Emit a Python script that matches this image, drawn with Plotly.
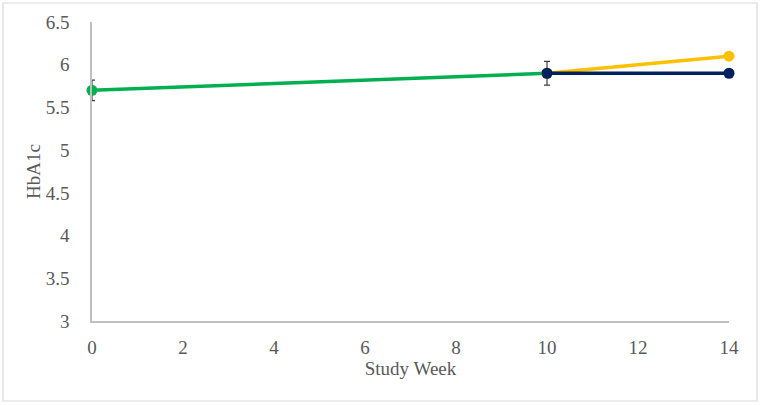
import plotly.graph_objects as go

weeks_green = [0, 10]
hba1c_green = [5.7, 5.9]
err_green = [0.12, 0]

weeks_yellow = [10, 14]
hba1c_yellow = [5.9, 6.1]

weeks_navy = [10, 14]
hba1c_navy = [5.9, 5.9]
err_navy = [0.14, 0]

x_ticks = [0, 2, 4, 6, 8, 10, 12, 14]
y_ticks = [3, 3.5, 4, 4.5, 5, 5.5, 6, 6.5]

font = "Liberation Serif, Times New Roman, serif"
tick_color = "#595959"
fs = 19

fig = go.Figure()
fig.add_trace(go.Scatter(
    x=weeks_green, y=hba1c_green, mode="lines+markers",
    line=dict(color="#00B050", width=3.5),
    marker=dict(color="#00B050", size=11),
    error_y=dict(type="data", array=err_green, color="#404040", thickness=1.2, width=3),
    showlegend=False))
fig.add_trace(go.Scatter(
    x=weeks_yellow, y=hba1c_yellow, mode="lines+markers",
    line=dict(color="#FFC000", width=3.5),
    marker=dict(color="#FFC000", size=11),
    showlegend=False))
fig.add_trace(go.Scatter(
    x=weeks_navy, y=hba1c_navy, mode="lines+markers",
    line=dict(color="#002060", width=3.5),
    marker=dict(color="#002060", size=11),
    error_y=dict(type="data", array=err_navy, color="#404040", thickness=1.2, width=3),
    showlegend=False))

fig.update_layout(
    width=760, height=405,
    margin=dict(l=92, r=31, t=22, b=84, autoexpand=False),
    paper_bgcolor="white", plot_bgcolor="white",
    font=dict(family=font, size=fs, color=tick_color),
    xaxis=dict(range=[0, 14], tickvals=x_ticks, showgrid=False, zeroline=False,
               showline=True, linecolor="#bfbfbf", linewidth=1.5,
               ticks="", ticklabelstandoff=8, automargin=False,
               tickfont=dict(family=font, size=fs, color=tick_color),
               title=dict(text="Study Week", font=dict(family=font, size=fs, color=tick_color), standoff=4)),
    yaxis=dict(range=[3, 6.5], tickvals=y_ticks, showgrid=False, zeroline=False,
               showline=True, linecolor="#bfbfbf", linewidth=1.5,
               ticks="", ticklabelstandoff=17, automargin=False,
               tickfont=dict(family=font, size=fs, color=tick_color),
               title=dict(text="HbA1c", font=dict(family=font, size=fs, color=tick_color), standoff=0)),
    shapes=[dict(type="rect", xref="paper", yref="paper",
                 x0=(3 - 92) / 637, x1=(757 - 92) / 637,
                 y0=(321 - 401) / 299, y1=(321 - 3) / 299,
                 line=dict(color="#d9d9d9", width=1.2), fillcolor="rgba(0,0,0,0)",
                 layer="below")],
)
fig.update_traces(cliponaxis=False)

fig.write_html("out.html", config={"displayModeBar": False},
               post_script="document.body.style.margin='0';")
